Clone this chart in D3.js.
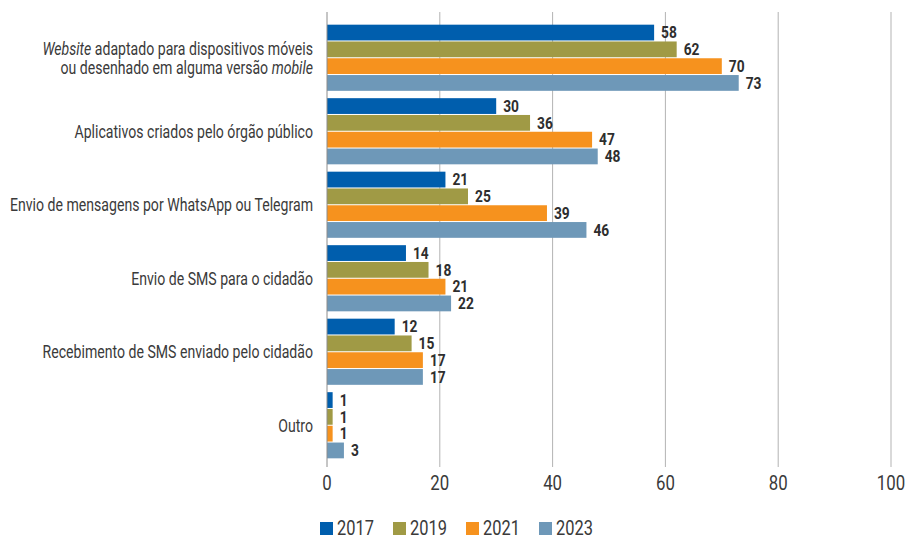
<!DOCTYPE html>
<html>
<head>
<meta charset="utf-8">
<script src="https://cdn.jsdelivr.net/npm/d3@7"></script>
<style>
	body { margin: 0; background: #fff; }
	svg text { font-family: "Roboto", "Liberation Sans", sans-serif; }
</style>
</head>
<body>
<div id="chart"></div>
<script>
const width = 905;
const height = 536;

const categories = [
	"Website adaptado para dispositivos móveis ou desenhado em alguma versão mobile",
	"Aplicativos criados pelo órgão público",
	"Envio de mensagens por WhatsApp ou Telegram",
	"Envio de SMS para o cidadão",
	"Recebimento de SMS enviado pelo cidadão",
	"Outro",
];
const years = ["2017", "2019", "2021", "2023"];
const values2017 = [58, 30, 21, 14, 12, 1];
const values2019 = [62, 36, 25, 18, 15, 1];
const values2021 = [70, 47, 39, 21, 17, 1];
const values2023 = [73, 48, 46, 22, 17, 3];
const xTicks = [0, 20, 40, 60, 80, 100];
const colors = ["#005EAD", "#A09A45", "#F6921E", "#6E98B8"];

const series = [values2017, values2019, values2021, values2023];

// no condensed font installed, so squeeze the glyphs
function condense(sel, factor) {
	sel.each(function () {
		const w = this.getComputedTextLength();
		d3.select(this).attr("textLength", w * factor).attr("lengthAdjust", "spacingAndGlyphs");
	});
}

const svg = d3
	.select("#chart")
	.append("svg")
	.attr("width", width)
	.attr("height", height);

const x = d3.scaleLinear().domain([0, 100]).range([327, 891]);
const y = d3
	.scaleBand()
	.domain(categories)
	.range([21, 462])
	.paddingInner(0.1)
	.paddingOuter(0.05);
const ySub = d3.scaleBand().domain(years).range([0, y.bandwidth()]).paddingInner(0.06);

// grid
svg.append("g")
	.selectAll("line")
	.data(xTicks.slice(1))
	.enter()
	.append("line")
	.attr("x1", (d) => x(d))
	.attr("x2", (d) => x(d))
	.attr("y1", 12)
	.attr("y2", 467)
	.attr("stroke", "#b3b3b3")
	.attr("stroke-width", 1);

// bars
const groups = svg
	.selectAll(".cat")
	.data(categories)
	.enter()
	.append("g")
	.attr("class", "cat")
	.attr("transform", (d) => `translate(0,${y(d)})`);

groups.each(function (cat, ci) {
	const g = d3.select(this);
	years.forEach((yr, si) => {
		const v = series[si][ci];
		g.append("rect")
			.attr("x", x(0))
			.attr("y", ySub(yr))
			.attr("width", x(v) - x(0))
			.attr("height", ySub.bandwidth())
			.attr("fill", colors[si]);
		g.append("text")
			.attr("class", "valLabel")
			.attr("x", x(v) + 7)
			.attr("y", ySub(yr) + ySub.bandwidth() / 2)
			.attr("dy", "0.36em")
			.attr("font-size", 16)
			.attr("font-weight", "bold")
			.attr("fill", "#2e2e2e")
			.text(v);
	});
});
condense(svg.selectAll(".valLabel"), 0.86);

// zero axis line
svg.append("line")
	.attr("x1", x(0))
	.attr("x2", x(0))
	.attr("y1", 12)
	.attr("y2", 467)
	.attr("stroke", "#8c8c8c")
	.attr("stroke-width", 1);

// x tick labels
const tickLabels = svg
	.append("g")
	.selectAll("text")
	.data(xTicks)
	.enter()
	.append("text")
	.attr("x", (d) => x(d))
	.attr("y", 490)
	.attr("text-anchor", "middle")
	.attr("font-size", 20)
	.attr("fill", "#3a3a3a")
	.text((d) => d);
condense(tickLabels, 0.84);

// category labels
const labelX = 313;
const catLabels = svg.append("g").attr("font-size", 18).attr("fill", "#3a3a3a").attr("text-anchor", "end");
categories.forEach((c, i) => {
	const cy = y(c) + y.bandwidth() / 2;
	if (i === 0) {
		const t1 = catLabels.append("text").attr("x", labelX).attr("y", cy - 9).attr("dy", "0.35em");
		t1.append("tspan").attr("font-style", "italic").text("Website");
		t1.append("tspan").text(" adaptado para dispositivos móveis");
		const t2 = catLabels.append("text").attr("x", labelX).attr("y", cy + 10).attr("dy", "0.35em");
		t2.append("tspan").text("ou desenhado em alguma versão ");
		t2.append("tspan").attr("font-style", "italic").text("mobile");
	} else {
		catLabels.append("text").attr("x", labelX).attr("y", cy).attr("dy", "0.35em").text(c);
	}
});
// scale so the WhatsApp label is about 303px wide, like the reference
const refNode = catLabels.selectAll("text").filter((d, i) => i === 3).node();
const catFactor = 303 / refNode.getComputedTextLength();
condense(catLabels.selectAll("text"), catFactor);

// legend
const legend = svg
	.append("g")
	.selectAll("g")
	.data(years)
	.enter()
	.append("g")
	.attr("transform", (d, i) => `translate(${320 + i * 73},522)`);
legend.append("rect").attr("width", 13).attr("height", 13).attr("fill", (d, i) => colors[i]);
const legendText = legend
	.append("text")
	.attr("x", 17)
	.attr("y", 13)
	.attr("font-size", 20)
	.attr("fill", "#3a3a3a")
	.text((d) => d);
condense(legendText, 0.82);
</script>
</body>
</html>
